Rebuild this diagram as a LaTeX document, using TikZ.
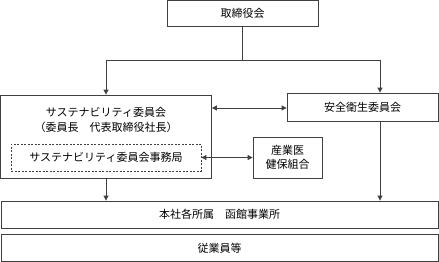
\documentclass[tikz,border=0pt]{standalone}
\usepackage{fontspec}
\newfontfamily\cjk{Noto Sans CJK JP}
\usetikzlibrary{arrows.meta}
\begin{document}
\begin{tikzpicture}[x=1pt,y=1pt,
  font=\cjk\fontsize{11}{15}\selectfont,
  box/.style={draw=black!75, line width=0.8pt, inner sep=0pt, anchor=center},
  dbox/.style={box, dashed, dash pattern=on 2pt off 1.5pt},
  conn/.style={draw=black!75, line width=0.8pt},
  arr/.style={conn, -{Triangle[length=5pt,width=5pt]}},
  darr/.style={conn, {Triangle[length=5pt,width=5pt]}-{Triangle[length=5pt,width=5pt]}}]
\useasboundingbox (0,0) rectangle (439,-262);
\node[box, minimum width=151pt, minimum height=26pt] (top) at (242.5,-13.5) {取締役会};
\node[box, minimum width=211pt, minimum height=83pt] (sus) at (106,-136.5) {};
\node[align=center, inner sep=0pt] (susT) at (106,-120) {サステナビリティ委員会\\（委員長　代表取締役社長）};
\node[dbox, minimum width=190pt, minimum height=27pt] (jim) at (106,-157.5) {サステナビリティ委員会事務局};
\node[box, minimum width=151pt, minimum height=28pt] (anzen) at (362.5,-107) {安全衛生委員会};
\node[box, minimum width=69pt, minimum height=41pt, align=center, font=\cjk\fontsize{11}{14}\selectfont] (sangyo) at (287.5,-157.5) {産業医\\健保組合};
\node[box, minimum width=437pt, minimum height=27pt] (honsha) at (219.5,-214.5) {本社各所属　函館事業所};
\node[box, minimum width=437pt, minimum height=27pt] (jugyo) at (219.5,-248) {従業員等};
\coordinate (jL) at (106,-60);
\coordinate (jR) at (380,-60);
\draw[conn] (top.south) -- (top.south |- jL);
\draw[conn] (jL) -- (jR);
\draw[arr] (jL) -- (sus.north);
\draw[arr] (jR) -- (jR |- anzen.north);
\draw[darr] (sus.east |- anzen.west) ++(0,-1) -- ([yshift=-1pt]anzen.west);
\draw[darr] (jim.east) -- (sangyo.west);
\draw[arr] (sus.south) -- (sus.south |- honsha.north);
\draw[arr] (jR |- anzen.south) -- (jR |- honsha.north);
\end{tikzpicture}
\end{document}
